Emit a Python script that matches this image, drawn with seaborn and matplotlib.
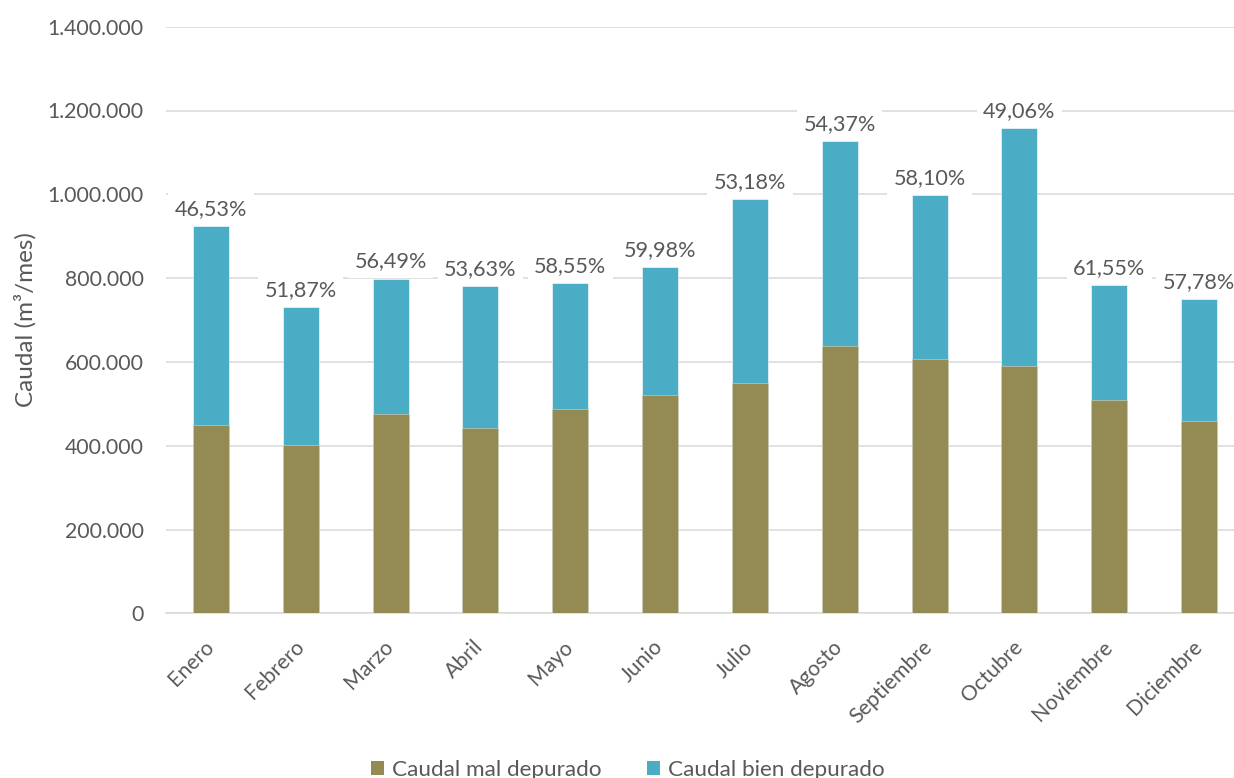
import matplotlib
matplotlib.use("Agg")
import matplotlib.pyplot as plt
import matplotlib.ticker as mticker
from matplotlib.patches import Patch
import seaborn as sns
import pandas as pd

meses = ["Enero", "Febrero", "Marzo", "Abril", "Mayo", "Junio", "Julio",
         "Agosto", "Septiembre", "Octubre", "Noviembre", "Diciembre"]
mal_depurado = [450000, 401000, 476000, 442000, 488000, 522000, 550000,
                638000, 606000, 591000, 510000, 459000]
bien_depurado = [474000, 329000, 323000, 338000, 301000, 304000, 438000,
                 489000, 392000, 568000, 274000, 290000]
etiquetas = ["46,53%", "51,87%", "56,49%", "53,63%", "58,55%", "59,98%",
             "53,18%", "54,37%", "58,10%", "49,06%", "61,55%", "57,78%"]
y_ticks = [0, 200000, 400000, 600000, 800000, 1000000, 1200000, 1400000]

COL_MAL = "#948A54"
COL_BIEN = "#4BACC6"
GRAY = "#595959"
GRID = "#D9D9D9"

sns.set_theme(style="white")
plt.rcParams['font.family'] = ['Lato', 'DejaVu Sans']
FS_TICK = 15.3
FS_LAB = 15.6
FS_LEG = 16.2
FS_YLAB = 17.5

df = pd.DataFrame({
    "mes": meses,
    "mal": mal_depurado,
    "bien": bien_depurado,
})
df["total"] = df["mal"] + df["bien"]

fig = plt.figure(figsize=(12.34, 7.78), dpi=100)
ax = fig.add_axes([166/1234, (778-613.3)/778, 1078/1234, (613.3-26.7)/778])

sns.barplot(data=df, x="mes", y="total", color=COL_BIEN, width=0.4,
            saturation=1, ax=ax, zorder=3, edgecolor="white", linewidth=0.4)
sns.barplot(data=df, x="mes", y="mal", color=COL_MAL, width=0.4,
            saturation=1, ax=ax, zorder=3, edgecolor="#d8d4c0", linewidth=0.4)

ax.set_ylim(0, 1400000)
ax.set_xlim(-0.5, 11.5)
ax.set_yticks(y_ticks)
ax.yaxis.set_major_formatter(mticker.FuncFormatter(
    lambda v, p: f"{int(v):,}".replace(",", ".")))
ax.grid(axis="y", color=GRID, linewidth=1.1, zorder=0)
ax.set_axisbelow(True)
for s in ["top", "right", "left"]:
    ax.spines[s].set_visible(False)
ax.spines["bottom"].set_color(GRID)
ax.spines["bottom"].set_linewidth(1.1)

ax.tick_params(axis="y", length=0, pad=16, labelsize=FS_TICK, labelcolor=GRAY)
ax.tick_params(axis="x", length=0, pad=22, labelsize=FS_TICK, labelcolor=GRAY)
ax.set_xticks(range(len(meses)))
ax.set_xticklabels(meses, rotation=45, ha="right", va="center",
                   rotation_mode="anchor")

ax.set_xlabel("")
ax.set_ylabel("Caudal (m³/mes)", fontsize=FS_YLAB, color=GRAY, labelpad=8)

for i, (t, lab) in enumerate(zip(df["total"], etiquetas)):
    ax.annotate(lab, (i, t), xytext=(0, 5), textcoords="offset points",
                ha="center", va="bottom", fontsize=FS_LAB, color=GRAY, zorder=5,
                bbox=dict(boxstyle="square,pad=0.3", fc="white", ec="none"))

handles = [Patch(facecolor=COL_MAL, edgecolor="none"),
           Patch(facecolor=COL_BIEN, edgecolor="none")]
fig.legend(handles, ["Caudal mal depurado", "Caudal bien depurado"],
           loc="center", bbox_to_anchor=(628/1234, 1-770/778), ncol=2,
           frameon=False, fontsize=FS_LEG, labelcolor=GRAY,
           handlelength=0.6, handleheight=0.6, handletextpad=0.35,
           columnspacing=2.0)

fig.savefig("out.png", dpi=100)
